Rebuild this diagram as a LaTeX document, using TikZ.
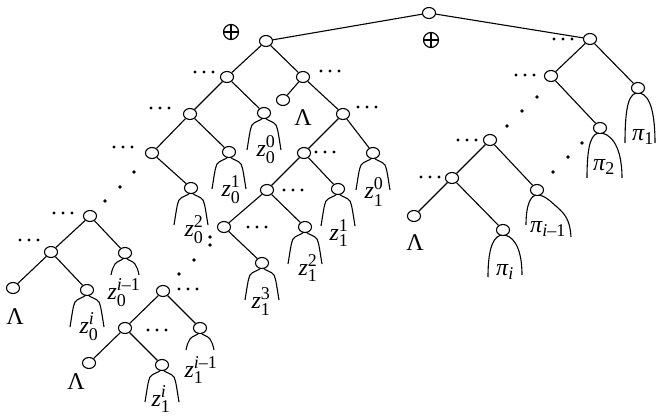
\documentclass[tikz,border=0pt]{standalone}
\usepackage{amsmath}
\usepackage{fontspec}
\setmainfont{Liberation Serif}
\DeclareMathSizes{24}{24}{18}{14}
\usetikzlibrary{shapes.geometric}
\newcommand\zl[2]{$\textit{z}^{\text{#2}}_{\text{#1}}$}
\newcommand\pl[1]{$\textit{π}_{\text{#1}}$}
\newcommand\zlong[1]{\draw[leg,shift={(#1.center)}]
  (-1,5) .. controls (-4,8) and (-9,8) .. (-12,12) .. controls (-14,16) and (-15,25) .. (-17,37)
  (1,5) .. controls (4,8) and (9,8) .. (12,12) .. controls (14,16) and (15,25) .. (17,37);}
\newcommand\zshort[1]{\draw[leg,shift={(#1.center)}]
  (-1,5) .. controls (-4,8) and (-8,8) .. (-10,11) .. controls (-12,14) and (-13,17) .. (-14,22)
  (1,5) .. controls (4,8) and (8,8) .. (10,11) .. controls (12,14) and (13,17) .. (14,22);}
\newcommand\parch[5]{\draw[leg,shift={(#1.center)}]
  (#2,#3) .. controls (#2,14) and (-8,5) .. (0,5) .. controls (8,5) and (#4,14) .. (#4,#5);}
\tikzset{
  nd/.style={ellipse,draw,fill=white,minimum width=13pt,minimum height=11pt,inner sep=0pt,line width=1.1pt},
  opl/.style={circle,draw,minimum size=15pt,inner sep=0pt,line width=1.2pt},
  lbl/.style={inner sep=0pt,font=\fontsize{24}{28}\selectfont},
  edge/.style={line width=1.1pt},
  leg/.style={line width=1.1pt},
  hd/.pic={\fill (-9,0) circle (1.7) (0,0) circle (1.7) (9,0) circle (1.7);}
}
\begin{document}
\begin{tikzpicture}[x=1pt,y=-1pt]
\useasboundingbox (0,0) rectangle (659,420);
% legs first (nodes drawn on top)
\coordinate (cz00) at (264,113); \coordinate (cz01) at (229,152); \coordinate (cz02) at (191,188);
\coordinate (cz0im) at (125,253); \coordinate (cz0i) at (87,290);
\coordinate (cz10) at (373,153); \coordinate (cz11) at (338,189); \coordinate (cz12) at (305,227);
\coordinate (cz13) at (262,263); \coordinate (cz1im) at (200,328); \coordinate (cz1i) at (162,365);
\coordinate (cp1) at (638,88); \coordinate (cp2) at (600,128); \coordinate (cpim) at (537,190); \coordinate (cpi) at (503,230);
\zlong{cz00} \zlong{cz01} \zlong{cz02} \zshort{cz0im} \zlong{cz0i}
\zlong{cz10} \zlong{cz11} \zlong{cz12} \zlong{cz13} \zshort{cz1im} \zlong{cz1i}
\parch{cp1}{-13}{55}{17}{55}
\parch{cp2}{-13}{50}{22}{50}
\parch{cpi}{-15}{47}{19}{45}
\draw[leg,shift={(cpim.center)}] (-11,35) .. controls (-11,14) and (-6,5) .. (0,5)
  .. controls (8,5) and (14,12) .. (20,17) .. controls (28,24) and (33,30) .. (34,47);
% nodes
\node[nd] (R) at (429,13) {};
\node[nd] (A) at (266,41) {};
\node[nd] (E) at (590,39) {};
\node[nd] (B) at (227,77) {};
\node[nd] (C) at (303,77) {};
\node[nd] (lam1) at (283,100) {};
\node[nd] (D) at (343,114) {};
\node[nd] (B1) at (190,114) {};
\node[nd] (z00) at (cz00) {};
\node[nd] (B2) at (152,153) {};
\node[nd] (z01) at (cz01) {};
\node[nd] (z02) at (cz02) {};
\node[nd] (I) at (90,216) {};
\node[nd] (J) at (51,252) {};
\node[nd] (z0im) at (cz0im) {};
\node[nd] (lam2) at (13,288) {};
\node[nd] (z0i) at (cz0i) {};
\node[nd] (M) at (304,153) {};
\node[nd] (z10) at (cz10) {};
\node[nd] (N) at (267,190) {};
\node[nd] (z11) at (cz11) {};
\node[nd] (O) at (224,227) {};
\node[nd] (z12) at (cz12) {};
\node[nd] (z13) at (cz13) {};
\node[nd] (K) at (163,291) {};
\node[nd] (L) at (125,328) {};
\node[nd] (z1im) at (cz1im) {};
\node[nd] (lam3) at (89,363) {};
\node[nd] (z1i) at (cz1i) {};
\node[nd] (F) at (551,76) {};
\node[nd] (p1) at (cp1) {};
\node[nd] (p2) at (cp2) {};
\node[nd] (G) at (490,140) {};
\node[nd] (H) at (452,178) {};
\node[nd] (pim) at (cpim) {};
\node[nd] (lam4) at (414,216) {};
\node[nd] (pi) at (cpi) {};
% edges
\foreach \a/\b in {R/A,R/E,A/B,A/C,C/lam1,C/D,B/B1,B/z00,B1/B2,B1/z01,B2/z02,
  I/J,I/z0im,J/lam2,J/z0i,D/M,D/z10,M/N,M/z11,N/O,N/z12,O/z13,
  K/L,K/z1im,L/lam3,L/z1i,E/F,E/p1,F/p2,G/H,G/pim,H/lam4,H/pi}
  \draw[edge] (\a) -- (\b);
% oplus
\node[opl] (op1) at (231,32) {};
\draw[line width=1.2pt] (op1.north) -- (op1.south) (op1.west) -- (op1.east);
\node[opl] (op2) at (431,40) {};
\draw[line width=1.2pt] (op2.north) -- (op2.south) (op2.west) -- (op2.east);
% horizontal dots
\foreach \p in {(204,72),(330,71),(367,107),(160,108),(123,147),(63,213),(29,240),
  (325,152),(293,190),(257,227),(188,289),(157,330),(563,39),(525,75),(467,140),(430,177)}
  \pic at \p {hd};
% chain dots
\foreach \p in {(134,172),(120,187),(105,201),(210,237),(210,245),(194,260),(179,274),
  (537,97),(522,111),(507,126),(582,143),(568,157),(553,172)}
  \fill \p circle (1.8);
% labels
\node[lbl] (tl1) at (303,118) {Λ};
\node[lbl] (tl2) at (15,317) {Λ};
\node[lbl] (tl3) at (76,382) {Λ};
\node[lbl] (tl4) at (415,243) {Λ};
\node[lbl] (lz00) at (266,150) {\zl{0}{0}};
\node[lbl] (lz01) at (231,190) {\zl{0}{1}};
\node[lbl] (lz02) at (194,230) {\zl{0}{2}};
\node[lbl] (lz0im) at (124,293) {\zl{0}{\textit{i}–1}};
\node[lbl] (lz0i) at (89,327) {\zl{0}{\textit{i}}};
\node[lbl] (lz10) at (374,192) {\zl{1}{0}};
\node[lbl] (lz11) at (339,233) {\zl{1}{1}};
\node[lbl] (lz12) at (308,268) {\zl{1}{2}};
\node[lbl] (lz13) at (261,302) {\zl{1}{3}};
\node[lbl] (lz1im) at (201,370) {\zl{1}{\textit{i}–1}};
\node[lbl] (lz1i) at (161,399) {\zl{1}{\textit{i}}};
\node[lbl] (lp1) at (643,137) {\pl{1}};
\node[lbl] (lp2) at (604,167) {\pl{2}};
\node[lbl] (lpi) at (505,272) {\pl{\textit{i}}};
\node[lbl] (lpim) at (548,229) {\pl{\textit{i}–1}};
\end{tikzpicture}
\end{document}
